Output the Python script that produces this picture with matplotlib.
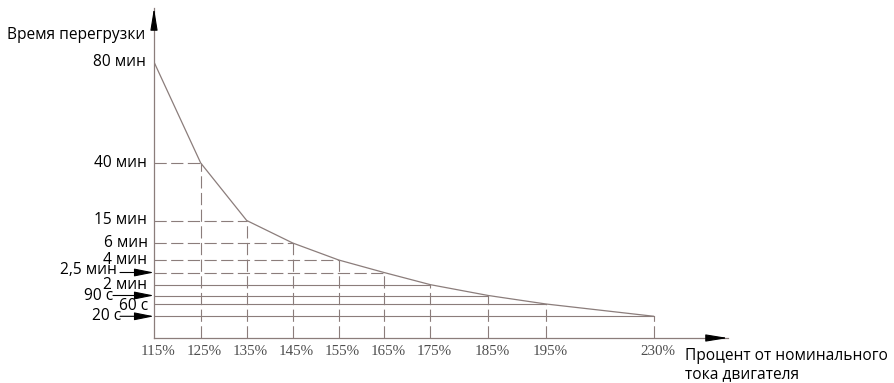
import numpy as np
import matplotlib
matplotlib.use("Agg")
import matplotlib.pyplot as plt
from matplotlib import transforms

# ---------------- data ----------------
currents = [115, 125, 135, 145, 155, 165, 175, 185, 195, 230]          # % of rated current
times_s = [4800, 2400, 900, 360, 240, 150, 120, 90, 60, 20]             # overload time, seconds
time_labels = ["80 мин", "40 мин", "15 мин", "6 мин", "4 мин", "2,5 мин",
               "2 мин", "90 с", "60 с", "20 с"]
x_tick_labels = ["115%", "125%", "135%", "145%", "155%", "165%", "175%",
                 "185%", "195%", "230%"]
y_title = "Время перегрузки"
x_title = "Процент от номинального\nтока двигателя"

# ---------------- layout (scale knots, pixels from origin) ----------------
W, H = 895, 383
x_knot_val = [115, 125, 135, 145, 155, 165, 175, 185, 195, 230]
x_knot_pos = [0, 46.7, 92.7, 138.7, 184.7, 230, 276.5, 334.3, 392, 500]
y_knot_val = [0, 20, 60, 90, 120, 150, 240, 360, 900, 2400, 4800]
y_knot_pos = [0, 21.7, 34, 42.5, 53.3, 65.5, 78, 95, 117.5, 175, 276]


def extend(vals, pos, far):
    s = (pos[-1] - pos[-2]) / (vals[-1] - vals[-2])
    return np.array(list(vals) + [far]), np.array(list(pos) + [pos[-1] + s * (far - vals[-1])])


xv, xp = extend(x_knot_val, x_knot_pos, 2000)
yv, yp = extend(y_knot_val, y_knot_pos, 100000)

fx = (lambda v: np.interp(v, xv, xp), lambda p: np.interp(p, xp, xv))
fy = (lambda v: np.interp(v, yv, yp), lambda p: np.interp(p, yp, yv))

LINE = "#8b7d7b"
ox, oy = 154, 338          # axis origin in pixels (from top-left)
x_end, y_end = 728, 8

fig = plt.figure(figsize=(W / 100, H / 100), dpi=100)
ax = fig.add_axes([ox / W, (H - oy) / H, (x_end - ox) / W, (oy - y_end) / H])
ax.set_xscale("function", functions=fx)
ax.set_yscale("function", functions=fy)
ax.set_xlim(115, fx[1](x_end - ox))
ax.set_ylim(0, fy[1](oy - y_end))
ax.patch.set_alpha(0)

for s in ["top", "right"]:
    ax.spines[s].set_visible(False)
for s in ["left", "bottom"]:
    ax.spines[s].set_color(LINE)
    ax.spines[s].set_linewidth(0.9)

dash = (0, (11, 4))
n_dashed_h = 6   # first levels (40 мин .. 2,5 мин) drawn dashed

# curve
ax.plot(currents, times_s, color=LINE, lw=0.9, solid_capstyle="butt", zorder=3)

# guide lines
for i in range(1, len(currents)):
    ls = dash if i < n_dashed_h else "-"
    ax.plot([currents[0], currents[i]], [times_s[i], times_s[i]], color=LINE,
            lw=0.8, linestyle=ls, zorder=2)
    ax.plot([currents[i], currents[i]], [0, times_s[i]], color=LINE,
            lw=0.8, linestyle=dash, zorder=2)

# x tick labels
ax.set_xticks(currents)
ax.set_xticklabels(x_tick_labels, fontfamily="Liberation Serif", fontsize=10.8, color="#4d4d4d")
ax.set_yticks([])
ax.tick_params(axis="x", length=0, pad=5)
off = transforms.ScaledTranslation(4 / 100, 0, fig.dpi_scale_trans)
for lab in ax.get_xticklabels():
    lab.set_transform(lab.get_transform() + off)

# y labels (text right edge from origin in px, vertical offset in px; +down)
lab_dx = [-8, -7, -7, -6, -7, -37, -7, -41, -6, -33]
lab_dy = [0, 0, 0, 0, 0, -2, 0, 0, 2, 0]
FONT = ["Open Sans", "DejaVu Sans"]
FS = 11.2
for i, lab in enumerate(time_labels):
    ax.annotate(lab, xy=(currents[0], times_s[i]), xytext=(lab_dx[i], -lab_dy[i]),
                textcoords="offset pixels", ha="right", va="center",
                fontsize=FS, family=FONT, color="black", annotation_clip=False)

# small arrows pointing to the axis
arrow_len = {5: 34, 7: 41, 9: 34}
for i, L in arrow_len.items():
    ax.annotate("", xy=(currents[0], times_s[i]), xytext=(-L, 0),
                textcoords="offset pixels", annotation_clip=False,
                arrowprops=dict(arrowstyle="-|>,head_length=1.2,head_width=0.24",
                                color="black", lw=0.8, mutation_scale=10,
                                shrinkA=0, shrinkB=0))

# axis arrows
ax.annotate("", xy=(0, 1), xytext=(0, 1 - 20 / (oy - y_end)), xycoords="axes fraction",
            annotation_clip=False,
            arrowprops=dict(arrowstyle="-|>,head_length=1.35,head_width=0.22",
                            color="black", lw=0.8, mutation_scale=10, shrinkA=0, shrinkB=0))
ax.annotate("", xy=(1, 0), xytext=(1 - 20 / (x_end - ox), 0), xycoords="axes fraction",
            annotation_clip=False,
            arrowprops=dict(arrowstyle="-|>,head_length=1.35,head_width=0.22",
                            color="black", lw=0.8, mutation_scale=10, shrinkA=0, shrinkB=0))

# titles
fig.text(7 / W, 1 - 35 / H, y_title, ha="left", va="center", fontsize=FS, family=FONT)
fig.text(685 / W, 1 - 365 / H, x_title, ha="left", va="center", fontsize=FS, family=FONT,
         linespacing=1.2)

fig.savefig("out.png", dpi=100)
